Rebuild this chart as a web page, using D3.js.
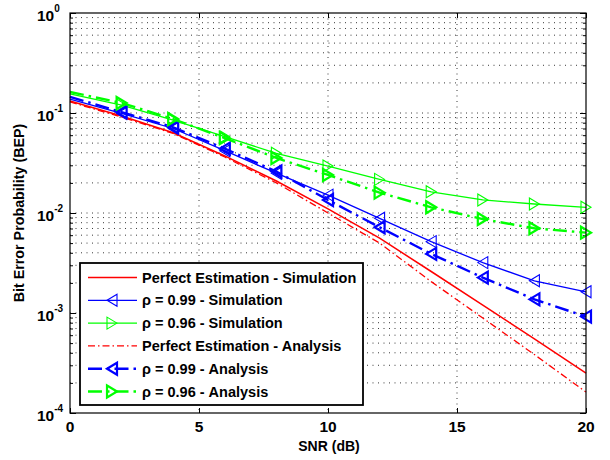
<!DOCTYPE html>
<html>
<head>
<meta charset="utf-8">
<script src="https://cdn.jsdelivr.net/npm/d3@7"></script>
<style>
  body { margin: 0; background: #fff; }
  svg { font-family: "Liberation Sans", Arial, sans-serif; font-weight: bold; }
</style>
</head>
<body>
<svg id="chart" width="610" height="460"></svg>
<script>
// data
const snr = [0, 2, 4, 6, 8, 10, 12, 14, 16, 18, 20];
const redSim   = [0.132, 0.0933, 0.0635, 0.0372, 0.0209, 0.011, 0.0056, 0.0026, 0.0012, 0.00055, 0.00025];
const blueSim  = [0.138, 0.099, 0.070, 0.042, 0.025, 0.0151, 0.00885, 0.00517, 0.00319, 0.0021, 0.00163];
const greenSim = [0.155, 0.12, 0.085, 0.058, 0.0395, 0.0295, 0.0217, 0.0163, 0.0135, 0.0123, 0.0114];
const redAna   = [0.129, 0.0912, 0.0624, 0.0363, 0.020, 0.010, 0.0050, 0.00206, 0.00089, 0.000384, 0.000162];
const blueAna  = [0.145, 0.102, 0.072, 0.044, 0.026, 0.0135, 0.0072, 0.0039, 0.00226, 0.00137, 0.00092];
const greenAna = [0.162, 0.126, 0.087, 0.056, 0.0355, 0.024, 0.016, 0.0114, 0.0087, 0.00703, 0.00636];

const legendLabels = [
  "Perfect Estimation - Simulation",
  "\u03c1 = 0.99 - Simulation",
  "\u03c1 = 0.96 - Simulation",
  "Perfect Estimation - Analysis",
  "\u03c1 = 0.99 - Analysis",
  "\u03c1 = 0.96 - Analysis"
];
const xTicks = [0, 5, 10, 15, 20];
const yExps = [-4, -3, -2, -1, 0];

const series = [
  { y: redSim,   color: "#ff0000", w: 1.5, dash: null,         marker: null },
  { y: blueSim,  color: "#0000ff", w: 1.3, dash: null,         marker: "left",  mw: 1.1 },
  { y: greenSim, color: "#00ff00", w: 1.3, dash: null,         marker: "right", mw: 1.1 },
  { y: redAna,   color: "#ff0000", w: 1.3, dash: "7,3,1.5,3",  marker: null },
  { y: blueAna,  color: "#0000ff", w: 2.4, dash: "14,5,2.5,5", marker: "left",  mw: 2.2 },
  { y: greenAna, color: "#00ff00", w: 2.4, dash: "14,5,2.5,5", marker: "right", mw: 2.2 }
];

const L = 70, R = 586, T = 13, B = 413;
const svg = d3.select("#chart");
const x = d3.scaleLinear().domain([0, 20]).range([L, R]);
const y = d3.scaleLog().domain([1e-4, 1]).range([B, T]);

// grid
const minorVals = [];
yExps.forEach(e => { for (let m = 1; m <= 9; m++) { const v = m * Math.pow(10, e); if (v <= 1) minorVals.push(v); } });
const grid = svg.append("g").attr("stroke", "#222").attr("stroke-width", 0.9).attr("stroke-dasharray", "1,4.5");
grid.selectAll("line.h").data(minorVals.filter(v => v > 1e-4 && v < 1)).enter().append("line")
  .attr("x1", L).attr("x2", R).attr("y1", d => y(d)).attr("y2", d => y(d));
grid.selectAll("line.v").data(xTicks.slice(1, -1)).enter().append("line")
  .attr("y1", T).attr("y2", B).attr("x1", d => x(d)).attr("x2", d => x(d));

// axes ticks (inward)
const majors = yExps.map(e => Math.pow(10, e));
svg.append("g").attr("transform", `translate(0,${B})`)
  .call(d3.axisBottom(x).tickValues(xTicks).tickSize(-5).tickFormat(""));
svg.append("g").attr("transform", `translate(0,${T})`)
  .call(d3.axisTop(x).tickValues(xTicks).tickSize(-5).tickFormat(""));
svg.append("g").attr("transform", `translate(${L},0)`)
  .call(d3.axisLeft(y).tickValues(majors).tickSize(-6).tickFormat(""));
svg.append("g").attr("transform", `translate(${R},0)`)
  .call(d3.axisRight(y).tickValues(majors).tickSize(-6).tickFormat(""));
svg.append("g").attr("transform", `translate(${L},0)`)
  .call(d3.axisLeft(y).tickValues(minorVals).tickSize(-3).tickFormat(""));
svg.append("g").attr("transform", `translate(${R},0)`)
  .call(d3.axisRight(y).tickValues(minorVals).tickSize(-3).tickFormat(""));
svg.selectAll(".domain").remove();
svg.selectAll(".tick line").attr("stroke", "#000");

// curves
const line = d3.line().x((d, i) => x(snr[i])).y(d => y(d));
function tri(dir) {
  return dir === "left" ? "M-5,0L5,-6L5,6Z" : "M5,0L-5,-6L-5,6Z";
}
series.forEach(s => {
  svg.append("path").datum(s.y).attr("d", line).attr("fill", "none")
    .attr("stroke", s.color).attr("stroke-width", s.w)
    .attr("stroke-dasharray", s.dash);
  if (s.marker) {
    svg.append("g").selectAll("path").data(s.y.slice(1)).enter().append("path")
      .attr("transform", (d, i) => `translate(${x(snr[i + 1])},${y(d)})`)
      .attr("d", tri(s.marker)).attr("fill", "none")
      .attr("stroke", s.color).attr("stroke-width", s.mw);
  }
});

// box
svg.append("rect").attr("x", L).attr("y", T).attr("width", R - L).attr("height", B - T)
  .attr("fill", "none").attr("stroke", "#000").attr("stroke-width", 1.2);

// tick labels
svg.append("g").selectAll("text").data(xTicks).enter().append("text")
  .attr("x", d => x(d)).attr("y", 432).attr("text-anchor", "middle")
  .attr("font-size", 15.5).text(d => d);
const yl = svg.append("g").selectAll("text").data(yExps).enter().append("text")
  .attr("x", 37).attr("y", d => y(Math.pow(10, d)) + 8).attr("font-size", 15.5);
yl.append("tspan").text("10");
yl.append("tspan").attr("dy", -9).attr("font-size", 10).text(d => d);

// axis titles
svg.append("text").attr("x", 329).attr("y", 451).attr("text-anchor", "middle")
  .attr("font-size", 14).text("SNR (dB)");
svg.append("text").attr("transform", "translate(24,213) rotate(-90)")
  .attr("text-anchor", "middle").attr("font-size", 14.3).text("Bit Error Probability (BEP)");

// legend
const lg = svg.append("g");
lg.append("rect").attr("x", 80).attr("y", 263).attr("width", 283).attr("height", 142)
  .attr("fill", "#fff").attr("stroke", "#000").attr("stroke-width", 1.8);
series.forEach((s, i) => {
  const ry = 277.5 + i * 22.8;
  lg.append("line").attr("x1", 88).attr("x2", 137).attr("y1", ry).attr("y2", ry)
    .attr("stroke", s.color).attr("stroke-width", s.w).attr("stroke-dasharray", s.dash);
  if (s.marker) {
    lg.append("path").attr("transform", `translate(112,${ry})`).attr("d", tri(s.marker))
      .attr("fill", "none").attr("stroke", s.color).attr("stroke-width", s.mw);
  }
  lg.append("text").attr("x", 142).attr("y", ry + 5).attr("font-size", 14.5).text(legendLabels[i]);
});
</script>
</body>
</html>
